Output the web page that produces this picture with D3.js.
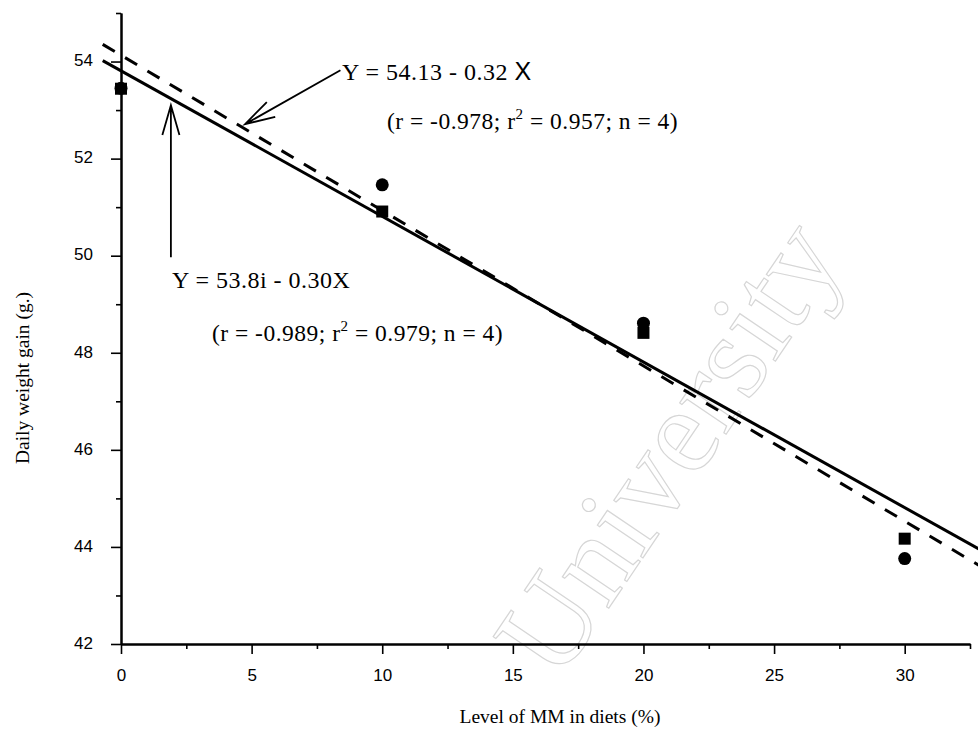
<!DOCTYPE html>
<html>
<head>
<meta charset="utf-8">
<script src="https://cdn.jsdelivr.net/npm/d3@7"></script>
<style>
  body { margin: 0; background: #fff; }
  svg { display: block; }
  .tick text { font-family: "Liberation Sans", Arial, sans-serif; font-size: 17px; fill: #000; }
  .serif { font-family: "Liberation Serif", "Times New Roman", serif; fill: #000; }
  .watermark { font-family: "Liberation Serif", "Times New Roman", serif; fill: none; stroke: #d6d6d6; stroke-width: 1.2px; }
</style>
</head>
<body>
<div id="chart"></div>
<script>
// data
const levels = [0, 10, 20, 30];
const gainSquares = [53.44, 50.91, 48.41, 44.17];
const gainCircles = [53.45, 51.46, 48.61, 43.76];

// regression lines, as printed on the figure
const fitNames = ['solid', 'dashed'];
const fitIntercepts = [53.81, 54.13];
const fitSlopes = [-0.30, -0.32];
const fitRange = [-0.7, 33.5];

const xMajorTicks = [0, 5, 10, 15, 20, 25, 30];
const xMinorTicks = [2.5, 7.5, 12.5, 17.5, 22.5, 27.5, 32.5];
const yMajorTicks = [42, 44, 46, 48, 50, 52, 54];
const yMinorTicks = [43, 45, 47, 49, 51, 53, 55];

const xTitle = 'Level of MM in diets (%)';
const yTitle = 'Daily weight gain (g.)';

// annotation anchors in data units
const equations = [
  {x: 8.46, y: 53.62, parts: [['Y = 54.13 - 0.32 ', null], ['X', 'sans']]},
  {x: 1.95, y: 49.33, parts: [['Y = 53.8i - 0.30X', null]]}
];
const stats = [
  {x: 10.18, y: 52.62, r: '-0.978', r2: '0.957', n: 4},
  {x: 3.48, y: 48.24, r: '-0.989', r2: '0.979', n: 4}
];
const arrows = [
  {from: [8.4, 53.82], to: [4.75, 52.71]},
  {from: [1.91, 49.97], to: [1.91, 53.1]}
];

const config = {
  width: 978,
  height: 731,
  xRange: [121, 970],
  yRange: [644, 13],
  xDomain: [0, 32.5],
  yDomain: [42, 55]
};

const xScale = d3.scaleLinear().domain(config.xDomain).range(config.xRange);
const yScale = d3.scaleLinear().domain(config.yDomain).range(config.yRange);

const svg = d3.select('#chart').append('svg')
  .attr('width', config.width)
  .attr('height', config.height);

function drawWatermark(g) {
  g.append('text')
    .attr('class', 'watermark')
    .attr('transform', 'translate(702,470) rotate(-56)')
    .attr('text-anchor', 'middle')
    .attr('font-size', 122)
    .text('University');
}

function drawAxes(g) {
  const yAxis = g.append('g').attr('transform', `translate(${config.xRange[0]},0)`);
  yAxis.call(d3.axisLeft(yScale).tickValues(yMajorTicks).tickSize(10).tickPadding(18).tickSizeOuter(0));
  const yMinor = g.append('g').attr('transform', `translate(${config.xRange[0]},0)`);
  yMinor.call(d3.axisLeft(yScale).tickValues(yMinorTicks).tickSize(5).tickFormat('').tickSizeOuter(0));

  const xAxis = g.append('g').attr('transform', `translate(0,${config.yRange[0]})`);
  xAxis.call(d3.axisBottom(xScale).tickValues(xMajorTicks).tickSize(10).tickPadding(15).tickSizeOuter(0));
  const xMinor = g.append('g').attr('transform', `translate(0,${config.yRange[0]})`);
  xMinor.call(d3.axisBottom(xScale).tickValues(xMinorTicks).tickSize(5).tickFormat('').tickSizeOuter(0));

  g.selectAll('.domain').attr('stroke', '#000').attr('stroke-width', 2);
  g.selectAll('.tick line').attr('stroke', '#000').attr('stroke-width', 1.6);
  yAxis.selectAll('.tick text').attr('dy', '0.25em');

  g.append('text')
    .attr('class', 'serif')
    .attr('x', 560)
    .attr('y', 723)
    .attr('text-anchor', 'middle')
    .attr('font-size', 19.5)
    .text(xTitle);
  g.append('text')
    .attr('class', 'serif')
    .attr('transform', 'translate(29,378) rotate(-90)')
    .attr('text-anchor', 'middle')
    .attr('font-size', 19.5)
    .text(yTitle);
}

function drawFits(g) {
  const fits = fitNames.map((name, i) => ({
    name,
    points: fitRange.map(x => [x, fitIntercepts[i] + fitSlopes[i] * x])
  }));
  const line = d3.line().x(d => xScale(d[0])).y(d => yScale(d[1]));
  g.selectAll('.fit')
    .data(fits)
    .enter()
    .append('path')
    .attr('d', d => line(d.points))
    .attr('fill', 'none')
    .attr('stroke', '#000')
    .attr('stroke-width', 3)
    .attr('stroke-dasharray', d => d.name === 'dashed' ? '14,12' : null);
}

function drawPoints(g) {
  const circles = levels.map((x, i) => ({x, y: gainCircles[i]}));
  const squares = levels.map((x, i) => ({x, y: gainSquares[i]}));
  g.selectAll('circle')
    .data(circles)
    .enter()
    .append('circle')
    .attr('cx', d => xScale(d.x))
    .attr('cy', d => yScale(d.y))
    .attr('r', 6.5)
    .attr('fill', '#000');
  g.selectAll('rect')
    .data(squares)
    .enter()
    .append('rect')
    .attr('x', d => xScale(d.x) - 6)
    .attr('y', d => yScale(d.y) - 6)
    .attr('width', 12)
    .attr('height', 12)
    .attr('fill', '#000');
}

function drawArrows(g) {
  const barbLength = 31;
  const barbAngle = 16 * Math.PI / 180;
  g.selectAll('.arrow')
    .data(arrows)
    .enter()
    .append('path')
    .attr('d', d => {
      const x0 = xScale(d.from[0]), y0 = yScale(d.from[1]);
      const x1 = xScale(d.to[0]), y1 = yScale(d.to[1]);
      const back = Math.atan2(y0 - y1, x0 - x1);
      const b1 = [x1 + barbLength * Math.cos(back - barbAngle), y1 + barbLength * Math.sin(back - barbAngle)];
      const b2 = [x1 + barbLength * Math.cos(back + barbAngle), y1 + barbLength * Math.sin(back + barbAngle)];
      return `M${x0},${y0}L${x1},${y1}M${b1}L${x1},${y1}L${b2}`;
    })
    .attr('fill', 'none')
    .attr('stroke', '#000')
    .attr('stroke-width', 1.8);
}

function drawAnnotations(g) {
  equations.forEach(eq => {
    const t = g.append('text')
      .attr('class', 'serif')
      .attr('x', xScale(eq.x))
      .attr('y', yScale(eq.y))
      .attr('font-size', 24)
      .attr('letter-spacing', 0.5);
    eq.parts.forEach(p => {
      const span = t.append('tspan').text(p[0]);
      if (p[1] === 'sans') {
        span.attr('font-family', '"Liberation Sans", Arial, sans-serif').attr('font-size', 25);
      }
    });
  });
  stats.forEach(s => {
    const t = g.append('text')
      .attr('class', 'serif')
      .attr('x', xScale(s.x))
      .attr('y', yScale(s.y))
      .attr('font-size', 23.5)
      .attr('letter-spacing', 0.5);
    t.append('tspan').text(`(r = ${s.r}; r`);
    t.append('tspan').attr('dy', -10).attr('font-size', 15).text('2');
    t.append('tspan').attr('dy', 10).text(` = ${s.r2}; n = ${s.n})`);
  });
}

drawWatermark(svg.append('g'));
drawAxes(svg.append('g'));
drawFits(svg.append('g'));
drawPoints(svg.append('g'));
drawArrows(svg.append('g'));
drawAnnotations(svg.append('g'));
</script>
</body>
</html>
